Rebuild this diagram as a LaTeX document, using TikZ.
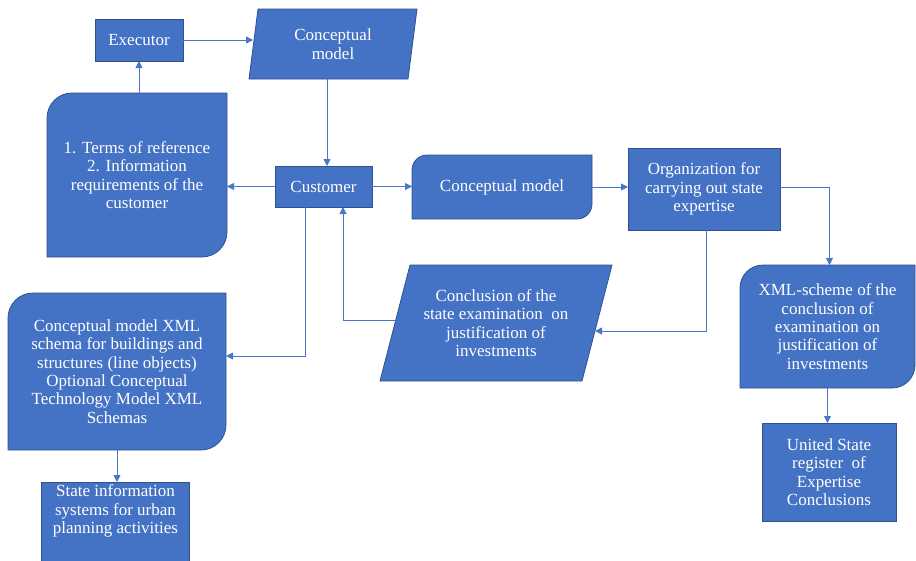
\documentclass[tikz,border=0pt]{standalone}
\usepackage{fontspec}
\setmainfont{Liberation Serif}
\usetikzlibrary{arrows.meta,calc,backgrounds}
\definecolor{boxblue}{HTML}{4472C4}
\definecolor{edgeblue}{HTML}{2F528F}
\definecolor{lineblue}{HTML}{4A76C6}
\tikzset{
  txt/.style={text=white, align=center, font=\fontsize{17}{18.4}\selectfont, inner sep=0pt, outer sep=0pt},
  bx/.style={fill=boxblue, draw=edgeblue, line width=0.8pt},
  rectbox/.style 2 args={txt, bx, minimum width=#1, minimum height=#2},
  shapebox/.style 2 args={txt, minimum width=#1, minimum height=#2},
  arr/.style={draw=lineblue, line width=0.9pt, -{Triangle[length=7pt,width=7pt]}},
}
\newcommand\diagRound[2]{%
  \filldraw[bx] ([xshift=#2]#1.north west) -- (#1.north east) -- ([yshift=#2]#1.south east)
    arc[start angle=0,end angle=-90,radius=#2] -- (#1.south west) -- ([yshift=-#2]#1.north west)
    arc[start angle=180,end angle=90,radius=#2] -- cycle;}
\newcommand\paraShape[2]{%
  \filldraw[bx] ([xshift=#2]#1.north west) -- (#1.north east) -- ([xshift=-#2]#1.south east) -- (#1.south west) -- cycle;}
\begin{document}
\begin{tikzpicture}[x=1pt,y=-1pt]
\useasboundingbox (0,0) rectangle (916,560);

\node[rectbox={88}{42}] (exec) at (139,40) {Executor};
\node[shapebox={168}{70}] (cm1) at (333,44) {Conceptual\\model};
\node[shapebox={180}{164}] (terms) at (137,175) {1. Terms of reference\\2. Information\\requirements of the\\customer};
\node[rectbox={97}{41}] (cust) at (323.5,186.5) {Customer};
\node[shapebox={180}{64}] (cm2) at (502,187) {Conceptual model};
\node[rectbox={152}{82}] (org) at (704,189) {Organization for\\carrying out state\\expertise};
\node[shapebox={232}{116}] (concl) at (496,323) {Conclusion of the\\state examination~ on\\justification of\\investments};
\node[shapebox={175}{123}] (xmls) at (827.5,326.5) {XML-scheme of the\\conclusion of\\examination on\\justification of\\investments};
\node[rectbox={134}{98}] (usr) at (829,472) {United State\\register~ of\\Expertise\\Conclusions};
\node[shapebox={218}{157}] (cmxml) at (117,371.5) {Conceptual model XML\\schema for buildings and\\structures (line objects)\\Optional Conceptual\\Technology Model XML\\Schemas};
\node[shapebox={148}{58}] (sis) at (115.5,511) {State information\\systems for urban\\planning activities};

\begin{scope}[on background layer]
  \fill[white] (0,0) rectangle (916,560);
  \paraShape{cm1}{9pt}
  \paraShape{concl}{30pt}
  \diagRound{terms}{25pt}
  \diagRound{cm2}{15pt}
  \diagRound{xmls}{23pt}
  \diagRound{cmxml}{25pt}
  \filldraw[bx] (sis.north west) rectangle ([yshift=-25pt]sis.south east);
\end{scope}

\coordinate (cm1in) at ($(cm1.west)+(4,0)$);
\coordinate (conclR) at ($(concl.east)+(-17,8)$);
\coordinate (conclL) at ($(concl.west)+(15,-3)$);

\draw[arr] (exec.south |- terms.north) -- (exec.south);
\draw[arr] (exec.east) -- (exec.east -| cm1in);
\draw[arr] ([xshift=-6pt]cm1.south) -- ([xshift=3.5pt]cust.north);
\draw[arr] (cust.west) -- (cust.west -| terms.east);
\draw[arr] (cust.east) -- (cust.east -| cm2.west);
\draw[arr] (cm2.east) -- (cm2.east -| org.west);
\draw[arr] ([yshift=2pt]org.east) -| ([xshift=2pt]xmls.north);
\draw[arr] ([xshift=2pt]org.south) |- (conclR);
\draw[arr] (conclL) -| ([xshift=19.5pt]cust.south);
\draw[arr] ([xshift=-18.5pt]cust.south) |- ([yshift=15.5pt]cmxml.east);
\draw[arr] (cmxml.south) -- (cmxml.south |- sis.north);
\draw[arr] (xmls.south) -- (xmls.south |- usr.north);
\end{tikzpicture}
\end{document}
